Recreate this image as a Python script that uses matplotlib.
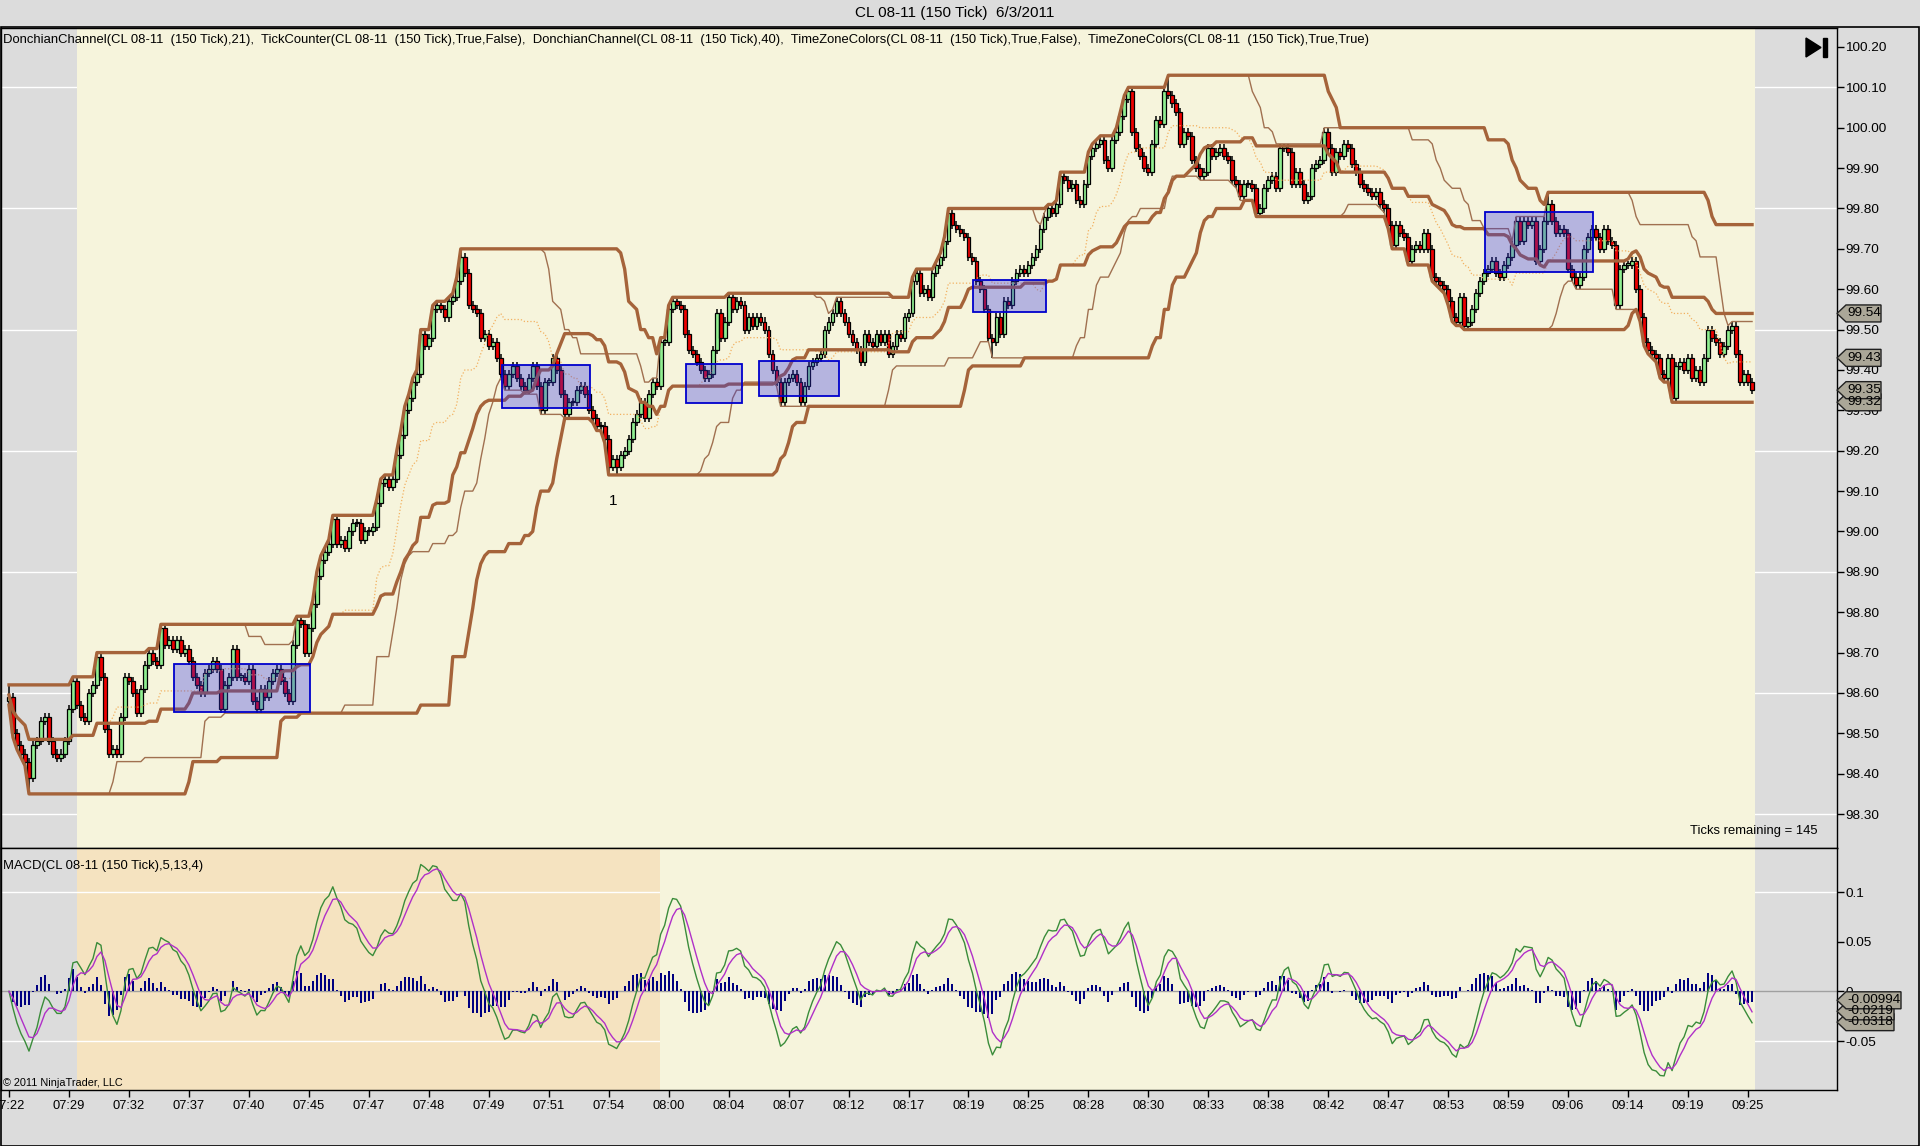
import numpy as np
import pandas as pd
import matplotlib
matplotlib.use("Agg")
import matplotlib.pyplot as plt
from matplotlib.patches import Rectangle, Polygon

plt.rcParams['font.family'] = ['Liberation Sans', 'DejaVu Sans']

# closing price of each 150 tick bar (437 bars)
closes = [
    98.59, 98.50, 98.47, 98.45, 98.43, 98.39, 98.47, 98.48, 98.53, 98.54, 98.48, 98.45, 98.44, 98.45, 98.48,
    98.56, 98.63, 98.57, 98.54, 98.53, 98.60, 98.62, 98.69, 98.64, 98.51, 98.45, 98.46, 98.45, 98.54, 98.64,
    98.63, 98.60, 98.55, 98.61, 98.67, 98.70, 98.68, 98.67, 98.76, 98.72, 98.73, 98.71, 98.73, 98.70, 98.71,
    98.68, 98.64, 98.62, 98.60, 98.65, 98.66, 98.68, 98.66, 98.56, 98.62, 98.64, 98.71, 98.64, 98.64, 98.63,
    98.66, 98.58, 98.56, 98.61, 98.59, 98.63, 98.65, 98.66, 98.63, 98.60, 98.58, 98.72, 98.78, 98.77, 98.70,
    98.76, 98.82, 98.89, 98.93, 98.95, 98.97, 99.03, 98.97, 98.98, 98.96, 99.00, 99.02, 99.02, 98.98, 99.00,
    99.00, 99.01, 99.07, 99.12, 99.13, 99.11, 99.13, 99.19, 99.24, 99.30, 99.33, 99.37, 99.39, 99.49, 99.46,
    99.48, 99.55, 99.56, 99.55, 99.53, 99.57, 99.58, 99.62, 99.68, 99.64, 99.56, 99.55, 99.54, 99.48, 99.49,
    99.46, 99.47, 99.43, 99.39, 99.36, 99.39, 99.41, 99.38, 99.36, 99.35, 99.38, 99.41, 99.36, 99.30, 99.37,
    99.37, 99.43, 99.40, 99.34, 99.29, 99.32, 99.32, 99.35, 99.36, 99.34, 99.30, 99.28, 99.26, 99.26, 99.23,
    99.16, 99.18, 99.16, 99.19, 99.20, 99.23, 99.27, 99.29, 99.32, 99.28, 99.34, 99.37, 99.36, 99.47, 99.47,
    99.55, 99.57, 99.56, 99.55, 99.49, 99.45, 99.44, 99.42, 99.40, 99.38, 99.39, 99.45, 99.54, 99.48, 99.52,
    99.58, 99.55, 99.57, 99.56, 99.50, 99.53, 99.51, 99.53, 99.52, 99.50, 99.44, 99.40, 99.37, 99.32, 99.37,
    99.38, 99.39, 99.37, 99.32, 99.36, 99.41, 99.42, 99.43, 99.44, 99.50, 99.52, 99.54, 99.57, 99.54, 99.52,
    99.49, 99.47, 99.45, 99.42, 99.49, 99.47, 99.46, 99.49, 99.47, 99.49, 99.44, 99.46, 99.49, 99.48, 99.53,
    99.54, 99.62, 99.64, 99.59, 99.60, 99.58, 99.64, 99.66, 99.68, 99.72, 99.79, 99.76, 99.75, 99.74, 99.73,
    99.68, 99.67, 99.62, 99.60, 99.55, 99.48, 99.47, 99.53, 99.49, 99.57, 99.56, 99.62, 99.64, 99.65, 99.64,
    99.66, 99.68, 99.70, 99.75, 99.78, 99.80, 99.79, 99.81, 99.88, 99.87, 99.85, 99.86, 99.82, 99.81, 99.86,
    99.93, 99.95, 99.96, 99.97, 99.92, 99.90, 99.97, 99.99, 100.03, 100.07, 100.09, 99.99, 99.95, 99.93, 99.90,
    99.89, 99.96, 100.02, 100.01, 100.09, 100.08, 100.06, 100.04, 99.96, 99.99, 99.98, 99.92, 99.90, 99.88, 99.89,
    99.95, 99.93, 99.94, 99.95, 99.93, 99.92, 99.87, 99.86, 99.83, 99.86, 99.86, 99.85, 99.79, 99.80, 99.85,
    99.87, 99.88, 99.85, 99.95, 99.95, 99.94, 99.86, 99.89, 99.86, 99.82, 99.83, 99.90, 99.91, 99.92, 99.99,
    99.95, 99.89, 99.94, 99.93, 99.96, 99.95, 99.91, 99.89, 99.86, 99.85, 99.84, 99.83, 99.84, 99.81, 99.80,
    99.76, 99.71, 99.76, 99.74, 99.73, 99.67, 99.70, 99.71, 99.70, 99.74, 99.70, 99.63, 99.62, 99.61, 99.60,
    99.57, 99.53, 99.52, 99.58, 99.51, 99.52, 99.55, 99.59, 99.62, 99.64, 99.65, 99.67, 99.64, 99.63, 99.66,
    99.68, 99.71, 99.77, 99.72, 99.77, 99.76, 99.77, 99.67, 99.70, 99.77, 99.81, 99.77, 99.74, 99.75, 99.74,
    99.65, 99.63, 99.61, 99.63, 99.70, 99.73, 99.75, 99.73, 99.70, 99.75, 99.72, 99.71, 99.56, 99.65, 99.66,
    99.66, 99.67, 99.60, 99.53, 99.47, 99.45, 99.44, 99.43, 99.39, 99.38, 99.43, 99.33, 99.41, 99.42, 99.40,
    99.43, 99.38, 99.40, 99.37, 99.43, 99.50, 99.48, 99.47, 99.44, 99.46, 99.50, 99.51, 99.44, 99.37, 99.39,
    99.37, 99.35,
]
first_open = 98.58
tick_size = 0.01
# wicks that reach further than one tick
long_highs = {0: 98.62, 113: 99.70, 235: 99.80, 280: 100.10, 290: 100.13, 329: 100.00, 385: 99.84}
long_lows = {5: 98.35, 150: 99.14, 152: 99.14, 246: 99.43, 416: 99.32}

time_labels = ["07:22", "07:29", "07:32", "07:37", "07:40", "07:45", "07:47", "07:48", "07:49", "07:51",
               "07:54", "08:00", "08:04", "08:07", "08:12", "08:17", "08:19", "08:25", "08:28", "08:30",
               "08:33", "08:38", "08:42", "08:47", "08:53", "08:59", "09:06", "09:14", "09:19", "09:25"]

# drawn boxes: first bar, last bar, low price, high price
boxes = [(41.25, 75.25, 98.554, 98.671), (123.25, 145.25, 99.305, 99.412), (169.25, 183.25, 99.318, 99.414),
         (187.5, 207.5, 99.335, 99.422), (241.25, 259.5, 99.543, 99.623), (369.25, 396.25, 99.642, 99.791)]

price_marks = [(99.54, "99.54"), (99.43, "99.43"), (99.32, "99.32"), (99.35, "99.35")]
macd_marks = [(-0.0310, "-0.0318"), (-0.0201, "-0.0219"), (-0.0090, "-0.00994")]

# ---------------------------------------------------------------- data prep
close = pd.Series(closes)
opens = close.shift(1).fillna(first_open)
high = pd.concat([opens, close], axis=1).max(axis=1) + tick_size
low = pd.concat([opens, close], axis=1).min(axis=1) - tick_size
for k, v in long_highs.items():
    high[k] = v
for k, v in long_lows.items():
    low[k] = v
idx = np.arange(len(close))

def donchian(n):
    up = high.rolling(n, min_periods=1).max()
    lo = low.rolling(n, min_periods=1).min()
    return up, lo, (up + lo) / 2

up21, lo21, mid21 = donchian(21)
up40, lo40, mid40 = donchian(40)

fast = close.ewm(span=5, adjust=False).mean()
slow = close.ewm(span=13, adjust=False).mean()
macd = fast - slow
avg = macd.ewm(span=4, adjust=False).mean()
diff = macd - avg

# ---------------------------------------------------------------- layout
W, H = 1920, 1146
def fx(px):
    return px / W
def fy(py):
    return 1 - py / H

GRAY = '#DCDCDC'
BEIGE = '#F6F4DC'
WHEAT = '#F5E3C0'
TXT = 9.4

fig = plt.figure(figsize=(W / 100, H / 100), dpi=100, facecolor=GRAY)
L, R, PT, PB, MB = 1, 1837, 28, 848, 1090
axp = fig.add_axes([fx(L), fy(PB), fx(R - L), (PB - PT) / H])
axm = fig.add_axes([fx(L), fy(MB), fx(R - L), (MB - PB) / H])

XLIM = (-2, 457.25)
PLIM = (98.216, 100.247)
MLIM = (-0.0993, 0.1443)

# ---------------------------------------------------------------- price panel
axp.set_facecolor(GRAY)
for g in [100.10, 99.80, 99.50, 99.20, 98.90, 98.60, 98.30]:
    axp.axhline(g, color='white', lw=1, zorder=0.5)
axp.axvspan(17, 436.75, color=BEIGE, zorder=0.8, lw=0)

upc = close >= opens
body_lo = np.minimum(opens, close)
body_h = np.maximum(np.abs(close - opens), 0.004)
axp.vlines(idx, low, high, color='black', lw=1.1, zorder=2)
axp.bar(idx, body_h, bottom=body_lo, width=0.95,
        color=np.where(upc, '#90EE90', '#EE0000'), edgecolor='black', linewidth=0.9, zorder=2.5)

thin = '#A07050'
thick = '#A5633A'
axp.plot(idx, up21, color=thin, lw=1.0, zorder=3)
axp.plot(idx, lo21, color=thin, lw=1.0, zorder=3)
axp.plot(idx, mid21, color='#F2B060', lw=0.9, ls=':', zorder=3)
axp.plot(idx, up40, color=thick, lw=2.4, zorder=3.2)
axp.plot(idx, lo40, color=thick, lw=2.4, zorder=3.2)
axp.plot(idx, mid40, color=thick, lw=2.4, zorder=3.2)

for x0, x1, y0, y1 in boxes:
    axp.add_patch(Rectangle((x0, y0), x1 - x0, y1 - y0, facecolor=(0.2, 0.2, 0.9, 0.33),
                            edgecolor='#0000CC', lw=1.3, zorder=4))

axp.text(151, 99.075, "1", fontsize=11, ha='center', va='center', zorder=5)

axp.set_xlim(XLIM)
axp.set_ylim(PLIM)
axp.set_xticks([])
axp.yaxis.tick_right()
axp.set_yticks(np.round(np.arange(98.30, 100.21, 0.10), 2))
axp.set_yticklabels([f"{v:.2f}" for v in np.arange(98.30, 100.21, 0.10)])
axp.tick_params(axis='y', direction='out', length=5, width=1, labelsize=9.7, pad=1)
for s in axp.spines.values():
    s.set_color('black')
    s.set_linewidth(1)

# ---------------------------------------------------------------- MACD panel
axm.set_facecolor(GRAY)
axm.axvspan(17, 162.75, color=WHEAT, zorder=0.6, lw=0)
for g in [0.1, -0.05]:
    axm.axhline(g, color='white', lw=1, zorder=0.7)
axm.axvspan(162.75, 436.75, color=BEIGE, zorder=0.8, lw=0)
axm.axhline(0, color='#A0A0A0', lw=1, zorder=1)
axm.bar(idx, diff, width=0.5, color='#000080', zorder=2)
axm.plot(idx, macd, color='#3A8C3A', lw=1.0, zorder=3)
axm.plot(idx, avg, color='#B030C8', lw=1.0, zorder=3)

axm.set_xlim(XLIM)
axm.set_ylim(MLIM)
axm.yaxis.tick_right()
axm.set_yticks([0.1, 0.05, 0, -0.05])
axm.set_yticklabels(["0.1", "0.05", "0", "-0.05"])
axm.tick_params(axis='y', direction='out', length=5, width=1, labelsize=9.7, pad=1)
axm.set_xticks(np.arange(0, 436, 15))
axm.set_xticklabels(time_labels)
axm.tick_params(axis='x', direction='out', length=5, width=1, labelsize=9.3, pad=2)
for s in axm.spines.values():
    s.set_color('black')
    s.set_linewidth(1)

# ---------------------------------------------------------------- frame and texts
fig.add_artist(Rectangle((fx(0.5), fy(1145.5)), fx(1918), (1145.5 - 27) / H, fill=False,
                         edgecolor='black', lw=1.2, transform=fig.transFigure))

fig.text(fx(955), fy(13), "CL 08-11 (150 Tick)  6/3/2011", fontsize=11, ha='center', va='center')
fig.text(fx(3), fy(40), "DonchianChannel(CL 08-11  (150 Tick),21),  TickCounter(CL 08-11  (150 Tick),True,False),  "
         "DonchianChannel(CL 08-11  (150 Tick),40),  TimeZoneColors(CL 08-11  (150 Tick),True,False),  "
         "TimeZoneColors(CL 08-11  (150 Tick),True,True)", fontsize=TXT, ha='left', va='center')
fig.text(fx(1817), fy(831), "Ticks remaining = 145", fontsize=TXT, ha='right', va='center')
fig.text(fx(3), fy(866), "MACD(CL 08-11 (150 Tick),5,13,4)", fontsize=TXT, ha='left', va='center')
fig.text(fx(3), fy(1083), "\u00a9 2011 NinjaTrader, LLC", fontsize=7.8, ha='left', va='center')

# end-of-data button
fig.add_artist(Polygon([(fx(1806), fy(38)), (fx(1806), fy(57)), (fx(1821), fy(47.5))],
                       closed=True, color='black', transform=fig.transFigure))
fig.add_artist(Rectangle((fx(1823), fy(57)), fx(4), 19 / H, color='black', transform=fig.transFigure))

def value_to_py(v, lim, top, bot):
    return top + (lim[1] - v) / (lim[1] - lim[0]) * (bot - top)

def marker(py, text, right):
    pts = [(R, py), (R + 9, py - 8.5), (right, py - 8.5), (right, py + 8.5), (R + 9, py + 8.5)]
    fig.add_artist(Polygon([(fx(a), fy(b)) for a, b in pts], closed=True, facecolor='#ABA798',
                           edgecolor='#202020', lw=1, transform=fig.transFigure))
    fig.text(fx(R + 10), fy(py), text, fontsize=9.7, ha='left', va='center')

for v, t in price_marks:
    marker(value_to_py(v, PLIM, PT, PB), t, 1881)
for v, t in macd_marks:
    marker(value_to_py(v, MLIM, PB, MB), t, 1901 if len(t) > 7 else 1894)

fig.savefig("out.png", dpi=100, facecolor=GRAY)
